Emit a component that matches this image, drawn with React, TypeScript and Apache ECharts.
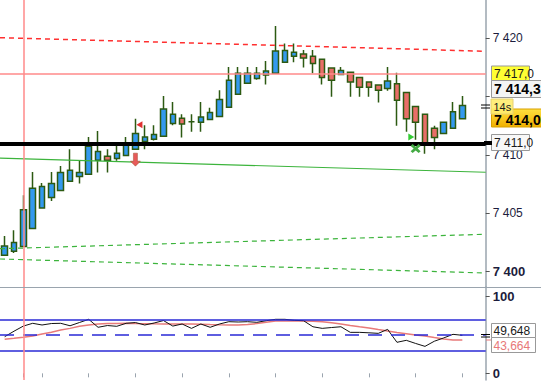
import React, { useEffect, useRef } from "react";
import * as echarts from "echarts";

// ---- data ----
const slots = Array.from({ length: 52 }, (_, i) => String(i));
const opens = [7401.4, 7401.75, 7402.15, 7403.7, 7405.45, 7406.35, 7406.95, 7407.75, 7408.15, 7408.35, 7409.55, 7409.9, 7409.7, 7409.95, 7410.5, 7411.15, 7411.35, 7411.6, 7412.7, 7413.15, 7412.85, 7412.8, 7413.05, 7413.3, 7414.1, 7415.2, 7416.15, 7416.55, 7416.85, 7417.0, 7417.95, 7418.45, 7418.65, 7418.45, 7418.2, 7417.45, 7416.9, 7417.1, 7416.65, 7416.25, 7416.0, 7415.7, 7416.1, 7415.35, 7414.15, 7413.5, 7412.3, 7411.85, 7412.3, 7413.1];
const closes = [7402.2, 7402.5, 7405.3, 7407.15, 7407.3, 7407.55, 7408.5, 7408.7, 7408.5, 7410.75, 7410.3, 7409.55, 7410.15, 7410.9, 7411.85, 7411.55, 7411.75, 7413.95, 7413.5, 7412.65, 7412.85, 7413.25, 7413.65, 7414.75, 7416.4, 7417.0, 7417.0, 7417.0, 7417.2, 7418.9, 7418.95, 7418.8, 7418.3, 7417.85, 7416.65, 7416.4, 7417.25, 7416.25, 7415.8, 7415.8, 7415.55, 7416.35, 7414.7, 7413.1, 7412.8, 7411.0, 7411.5, 7412.8, 7413.7, 7414.25];
const lows = [7401.4, 7401.6, 7402.15, 7403.7, 7405.45, 7406.05, 7406.95, 7407.75, 7407.55, 7408.35, 7408.5, 7408.5, 7409.5, 7409.95, 7410.5, 7410.5, 7411.25, 7411.6, 7412.55, 7411.5, 7412.0, 7412.0, 7413.05, 7413.3, 7414.1, 7415.2, 7416.15, 7416.45, 7416.05, 7417.0, 7417.95, 7417.95, 7417.5, 7417.0, 7416.05, 7415.0, 7416.9, 7415.0, 7415.0, 7415.0, 7414.5, 7415.5, 7412.5, 7412.0, 7411.3, 7410.1, 7410.5, 7411.85, 7412.3, 7413.1];
const highs = [7403.05, 7403.55, 7406.55, 7408.55, 7407.6, 7408.55, 7409.05, 7410.5, 7409.5, 7411.55, 7412.05, 7410.5, 7410.9, 7411.55, 7413.1, 7412.55, 7412.55, 7415.05, 7414.55, 7413.5, 7413.5, 7414.55, 7414.05, 7415.55, 7417.55, 7417.55, 7417.55, 7417.55, 7418.05, 7421.05, 7419.55, 7419.55, 7419.0, 7419.0, 7418.2, 7417.45, 7417.55, 7417.1, 7416.65, 7416.25, 7416.0, 7417.55, 7417.05, 7415.35, 7414.15, 7413.5, 7412.5, 7412.8, 7414.55, 7415.05];

const oscillator = [47.8, 55.0, 61.7, 65.3, 63.1, 65.0, 65.3, 62.1, 66.3, 70.5, 60.1, 62.4, 61.4, 65.3, 66.3, 63.1, 65.7, 68.9, 61.7, 64.4, 58.7, 64.4, 60.1, 64.4, 67.4, 67.0, 67.4, 66.6, 68.7, 70.5, 70.5, 69.2, 68.7, 60.8, 58.7, 59.8, 60.8, 53.5, 53.5, 52.9, 52.2, 57.4, 40.5, 43.1, 39.0, 35.2, 41.9, 46.2, 50.9, 49.648];
const signalLine = [44.4, 45.7, 47.1, 48.7, 51.3, 53.7, 56.5, 58.7, 61.4, 63.1, 64.4, 64.9, 65.2, 65.3, 65.0, 64.8, 64.6, 64.5, 64.5, 64.4, 64.4, 64.0, 63.6, 63.3, 63.1, 63.1, 63.6, 65.0, 66.7, 68.3, 68.3, 68.3, 68.3, 67.9, 67.4, 65.9, 64.4, 62.4, 60.8, 59.3, 57.2, 55.2, 53.3, 51.8, 50.0, 48.7, 46.7, 44.8, 43.5, 43.664];

const redDashTrend = [7420.05, 7418.89];
const greenTrend = [7409.74, 7408.52];
const greenDashUpper = [7401.97, 7403.21];
const greenDashLower = [7401.09, 7399.89];

const priceLevels = { resistance: 7417.0, support: 7411.0 };
const sessionStart = "2";
const oscLevels = [70, 50, 30];

const priceTicks = [7400, 7405, 7410, 7415, 7420];
const priceLabels = [7400, 7405, 7410, 7420];
const oscTicks = [0, 100];
const tickSlots = [2, 4, 9, 14, 19, 24, 29, 34, 39, 44, 49];

const sellSignal = ["14", 7409.6];
const sellMark = ["14", 7412.6];
const buyMark = ["43", 7411.55];
const buyCross = ["44", 7410.55];

const boxLabels = {
  resistance: "7 417,0",
  ask: "7 414,3",
  timer: "14s",
  last: "7 414,0",
  support: "7 411,0",
  osc: "49,648",
  sig: "43,664",
};

const FONT = "Liberation Sans, Arial, sans-serif";
const fmtPrice = (v: number) => {
  const s = String(Math.round(v));
  return s.slice(0, 1) + " " + s.slice(1);
};

export default function App() {
  const ref = useRef<HTMLDivElement>(null);
  useEffect(() => {
    if (!ref.current) return;
    const chart = echarts.init(ref.current, undefined, { renderer: "svg" });
    const candles = opens.map((o, i) => [o, closes[i], lows[i], highs[i]]);
    const axisColor = "#9aa4ae";
    const textColor = "#1c1c3c";
    const pink = "#ff8a8a";
    const option: any = {
      animation: false,
      backgroundColor: "#ffffff",
      textStyle: { fontFamily: FONT },
      grid: [
        { left: -3.8, top: 0, width: 489.5, height: 287 },
        { left: -3.8, top: 287, width: 489.5, height: 93 },
      ],
      xAxis: [
        { type: "category", gridIndex: 0, data: slots, boundaryGap: true, show: false },
        {
          type: "category",
          gridIndex: 1,
          data: slots,
          boundaryGap: true,
          axisLine: { show: false },
          axisLabel: { show: false },
          axisTick: {
            show: true,
            alignWithLabel: true,
            length: 4,
            interval: (i: number) => tickSlots.includes(i),
            lineStyle: { color: axisColor },
          },
          splitLine: { show: false },
        },
        { type: "value", gridIndex: 0, min: 0, max: 1, show: false },
      ],
      yAxis: [
        {
          type: "value",
          gridIndex: 0,
          position: "right",
          min: 7398.69,
          max: 7423.28,
          axisLine: { show: true, onZero: false, lineStyle: { color: axisColor, width: 1.5 } },
          axisTick: { show: true, length: 4, customValues: priceTicks, lineStyle: { color: "#555" } },
          axisLabel: {
            customValues: priceLabels,
            margin: 7,
            color: textColor,
            fontSize: 12,
            fontFamily: FONT,
            formatter: (v: number) => (v === 7400 ? "{b|" + fmtPrice(v) + "}" : fmtPrice(v)),
            rich: { b: { fontWeight: "bold", fontSize: 13, color: textColor, fontFamily: FONT } },
          },
          splitLine: { show: false },
        },
        {
          type: "value",
          gridIndex: 1,
          position: "right",
          min: -8.7,
          max: 112.7,
          axisLine: { show: true, onZero: false, lineStyle: { color: axisColor, width: 1.5 } },
          axisTick: { show: true, length: 4, customValues: oscTicks, lineStyle: { color: "#555" } },
          axisLabel: {
            customValues: oscTicks,
            margin: 7,
            color: textColor,
            fontSize: 13,
            fontWeight: "bold",
            fontFamily: FONT,
          },
          splitLine: { show: false },
        },
      ],
      series: [
        {
          type: "line",
          xAxisIndex: 2,
          yAxisIndex: 0,
          data: [[0, redDashTrend[0]], [1, redDashTrend[1]]],
          symbol: "none",
          lineStyle: { color: "#ff3030", width: 1.5, type: [5, 4] },
          silent: true,
        },
        {
          type: "line",
          xAxisIndex: 2,
          yAxisIndex: 0,
          data: [[0, greenTrend[0]], [1, greenTrend[1]]],
          symbol: "none",
          lineStyle: { color: "#3cb43c", width: 1.2 },
          silent: true,
        },
        {
          type: "line",
          xAxisIndex: 2,
          yAxisIndex: 0,
          data: [[0, greenDashUpper[0]], [1, greenDashUpper[1]]],
          symbol: "none",
          lineStyle: { color: "#3cb43c", width: 1.2, type: [5, 4] },
          silent: true,
        },
        {
          type: "line",
          xAxisIndex: 2,
          yAxisIndex: 0,
          data: [[0, greenDashLower[0]], [1, greenDashLower[1]]],
          symbol: "none",
          lineStyle: { color: "#3cb43c", width: 1.2, type: [5, 4] },
          silent: true,
        },
        {
          type: "candlestick",
          xAxisIndex: 0,
          yAxisIndex: 0,
          data: candles,
          barWidth: 6,
          itemStyle: {
            color: "#3399ee",
            color0: "#e86e68",
            borderColor: "#2c5a12",
            borderColor0: "#2c5a12",
            borderColorDoji: "#2c5a12",
            borderWidth: 1.5,
          },
          markLine: {
            symbol: "none",
            silent: true,
            label: { show: false },
            data: [
              { yAxis: priceLevels.resistance, lineStyle: { color: pink, width: 1.5, type: "solid", opacity: 1 } },
              { xAxis: sessionStart, lineStyle: { color: pink, width: 1.5, type: "solid", opacity: 1 } },
              { yAxis: priceLevels.support, lineStyle: { color: "#000000", width: 4, type: "solid", opacity: 1 } },
            ],
          },
          markPoint: {
            silent: true,
            label: { show: false },
            data: [
              {
                coord: sellSignal,
                symbol: "path://M3,0 L7,0 L7,8 L10,8 L5,13 L0,8 L3,8 Z",
                symbolSize: [10, 13],
                itemStyle: { color: "#e85a5a", borderColor: "#a05030", borderWidth: 0.5 },
              },
              {
                coord: sellMark,
                symbol: "triangle",
                symbolRotate: 90,
                symbolSize: [7, 6],
                symbolOffset: [4, 0],
                itemStyle: { color: "#e03030" },
              },
              {
                coord: buyMark,
                symbol: "triangle",
                symbolRotate: -90,
                symbolSize: [7, 6],
                symbolOffset: [5, 0],
                itemStyle: { color: "#33cc33" },
              },
              {
                coord: buyCross,
                symbol: "path://M0,2 L2,0 L5,3 L8,0 L10,2 L7,5 L10,8 L8,10 L5,7 L2,10 L0,8 L3,5 Z",
                symbolSize: [10, 9],
                itemStyle: { color: "#44aa44" },
              },
            ],
          },
        },
        {
          type: "line",
          xAxisIndex: 1,
          yAxisIndex: 1,
          data: signalLine,
          symbol: "none",
          lineStyle: { color: "#e87a7a", width: 1.5 },
          silent: true,
        },
        {
          type: "line",
          xAxisIndex: 1,
          yAxisIndex: 1,
          data: oscillator,
          symbol: "none",
          lineStyle: { color: "#111111", width: 1 },
          silent: true,
          markLine: {
            symbol: "none",
            silent: true,
            label: { show: false },
            data: [
              { yAxis: oscLevels[0], lineStyle: { color: "#2a2ad6", width: 1.5, type: "solid" } },
              { yAxis: oscLevels[1], lineStyle: { color: "#2a2ad6", width: 1.5, type: [14, 9] } },
              { yAxis: oscLevels[2], lineStyle: { color: "#2a2ad6", width: 1.5, type: "solid" } },
              { xAxis: sessionStart, lineStyle: { color: pink, width: 1.5, type: "solid" } },
            ],
          },
        },
      ],
      graphic: [
        { type: "line", z: 50, shape: { x1: 0, y1: 287.5, x2: 541, y2: 287.5 }, style: { stroke: axisColor, lineWidth: 1.2 } },
        // price level boxes
        { type: "rect", z: 60, shape: { x: 491.5, y: 66, width: 38, height: 15 }, style: { fill: "#ffff33", stroke: "#999", lineWidth: 1 } },
        { type: "text", z: 61, style: { x: 494, y: 73.5, text: boxLabels.resistance, font: "12px " + FONT, fill: "#1a1a1a", verticalAlign: "middle" } },
        { type: "rect", z: 60, shape: { x: 491.5, y: 80.5, width: 55, height: 17 }, style: { fill: "#f4f4f4", stroke: "#999", lineWidth: 1 } },
        { type: "text", z: 61, style: { x: 494, y: 89, text: boxLabels.ask, font: "bold 14px " + FONT, fill: "#000", verticalAlign: "middle" } },
        {
          type: "rect",
          z: 60,
          shape: { x: 491.5, y: 109, width: 55, height: 18 },
          style: {
            fill: new echarts.graphic.LinearGradient(0, 0, 0, 1, [
              { offset: 0, color: "#ffe040" },
              { offset: 1, color: "#f0b000" },
            ]),
            stroke: "#d8a000",
            lineWidth: 1,
          },
        },
        { type: "text", z: 61, style: { x: 494, y: 119.5, text: boxLabels.last, font: "bold 14px " + FONT, fill: "#000", verticalAlign: "middle" } },
        { type: "rect", z: 62, shape: { x: 491, y: 99, width: 22, height: 15 }, style: { fill: "rgba(255,236,110,0.9)", stroke: "#e6d070", lineWidth: 1 } },
        { type: "text", z: 63, style: { x: 493.5, y: 106.5, text: boxLabels.timer, font: "11px " + FONT, fill: "#1a1a1a", verticalAlign: "middle" } },
        { type: "rect", z: 60, shape: { x: 491.5, y: 134.5, width: 38, height: 16 }, style: { fill: "#f8f8f8", stroke: "#999", lineWidth: 1 } },
        { type: "text", z: 61, style: { x: 494, y: 142.5, text: boxLabels.support, font: "12px " + FONT, fill: "#1a1a1a", verticalAlign: "middle" } },
        { type: "rect", z: 60, shape: { x: 484, y: 141, width: 8, height: 4 }, style: { fill: "#000" } },
        { type: "line", z: 60, shape: { x1: 481, y1: 105, x2: 490, y2: 105 }, style: { stroke: "#000", lineWidth: 1 } },
        { type: "line", z: 60, shape: { x1: 481, y1: 108, x2: 490, y2: 108 }, style: { stroke: "#000", lineWidth: 1 } },
        // oscillator boxes
        { type: "rect", z: 60, shape: { x: 491.5, y: 323.5, width: 44, height: 14 }, style: { fill: "#ffffff", stroke: "#999", lineWidth: 1 } },
        { type: "text", z: 61, style: { x: 493.5, y: 330.5, text: boxLabels.osc, font: "12px " + FONT, fill: "#1a1a1a", verticalAlign: "middle" } },
        { type: "rect", z: 60, shape: { x: 491.5, y: 337.5, width: 44, height: 15 }, style: { fill: "#ffffff", stroke: "#999", lineWidth: 1 } },
        { type: "text", z: 61, style: { x: 493.5, y: 345.5, text: boxLabels.sig, font: "12px " + FONT, fill: "#e87878", verticalAlign: "middle" } },
        { type: "line", z: 60, shape: { x1: 481, y1: 334.5, x2: 490, y2: 334.5 }, style: { stroke: "#000", lineWidth: 1 } },
        { type: "line", z: 60, shape: { x1: 481, y1: 337, x2: 490, y2: 337 }, style: { stroke: "#000", lineWidth: 1 } },
        { type: "line", z: 60, shape: { x1: 486, y1: 340, x2: 491, y2: 340 }, style: { stroke: "#e87878", lineWidth: 1 } },
      ],
    };
    chart.setOption(option);
    return () => chart.dispose();
  }, []);
  return (
    <div
      ref={ref}
      style={{ position: "fixed", left: 0, top: 0, width: 541, height: 383, background: "#fff" }}
    />
  );
}
